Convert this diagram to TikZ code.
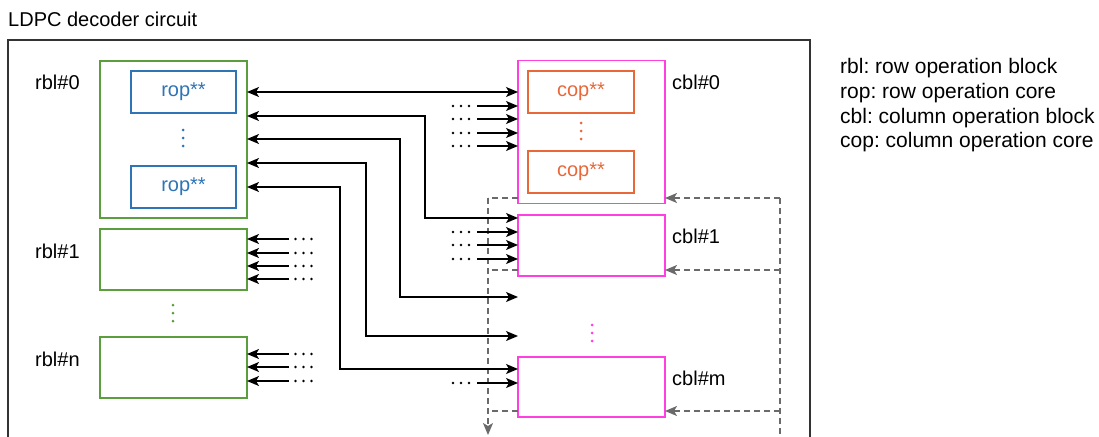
\documentclass[tikz,border=0pt]{standalone}
\usepackage{fontspec}
\setmainfont{Liberation Sans}
\usetikzlibrary{arrows.meta}
\definecolor{grn}{HTML}{5B9E3D}
\definecolor{blu}{HTML}{2F74B5}
\definecolor{mag}{HTML}{FF3FDF}
\definecolor{org}{HTML}{E8683A}
\definecolor{gry}{HTML}{6A6A6A}
\definecolor{frm}{HTML}{333333}
\frenchspacing
\newcommand\dotsrow[2]{\foreach \dx in {-8,0,8} {\fill (#1+\dx,#2) circle[radius=1.3];}}
\newcommand\dotscol[3]{\foreach \dy in {-8,0,8} {\fill[#3] (#1,#2+\dy) circle[radius=1.5];}}
\begin{document}
\begin{tikzpicture}[x=1pt,y=-1pt,
  font=\fontsize{20}{24}\selectfont,
  box/.style={draw, fill=white, line width=1.6pt, inner sep=0pt, outer sep=0pt},
  rblbox/.style={box, draw=grn, minimum width=147pt},
  ropbox/.style={box, draw=blu, text=blu, minimum width=105pt, minimum height=42pt},
  cblbox/.style={box, draw=mag, minimum width=147pt},
  copbox/.style={box, draw=org, text=org, minimum width=106pt, minimum height=42pt},
  lbl/.style={anchor=base west, inner sep=0pt},
  leg/.style={lbl, font=\fontsize{21}{24}\selectfont},
  tip/.tip={Stealth[length=12pt,width=10pt,inset=3pt]},
  conn/.style={line width=1.4pt, black, tip-tip},
  sarr/.style={line width=1.4pt, black, -tip},
  fb/.style={line width=1.4pt, gry, dash pattern=on 6pt off 4pt},
  fbarr/.style={fb, -tip},
]
\useasboundingbox (0,0) rectangle (1099,436);
\clip (0,0) rectangle (1099,436);

% title and frame
\node[lbl] (title) at (8,27) {LDPC decoder circuit};
\draw[frm, line width=1.3pt] (8,470) -- (8,40) -- (810,40) -- (810,470);

% legend
\node[leg] (leg1) at (840,74) {rbl: row operation block};
\node[leg] (leg2) at (840,98.5) {rop: row operation core};
\node[leg] (leg3) at (840,123) {cbl: column operation block};
\node[leg] (leg4) at (840,147.5) {cop: column operation core};

% row blocks
\node[rblbox, minimum height=157pt] (rbl0) at (173.5,139.5) {};
\node[ropbox] (rop0a) at (183.5,92) {rop**};
\node[ropbox] (rop0b) at (183.5,187) {rop**};
\dotscol{183}{138}{blu}
\node[rblbox, minimum height=61pt] (rbl1) at (173.5,259.5) {};
\dotscol{173}{313}{grn}
\node[rblbox, minimum height=61pt] (rbln) at (173.5,367.5) {};
\node[lbl] (lr0) at (35,89) {rbl\#0};
\node[lbl] (lr1) at (35,258) {rbl\#1};
\node[lbl] (lrn) at (35,366) {rbl\#n};

% column blocks
\node[cblbox, minimum height=143pt] (cbl0) at (591.5,132) {};
\node[copbox] (cop0a) at (581,92) {cop**};
\node[copbox] (cop0b) at (581,172) {cop**};
\dotscol{581}{131}{org}
\node[cblbox, minimum height=61pt] (cbl1) at (591.5,245.5) {};
\dotscol{592}{333}{mag}
\node[cblbox, minimum height=60pt] (cblm) at (591.5,387) {};
\node[lbl] (lc0) at (672,89) {cbl\#0};
\node[lbl] (lc1) at (672,243) {cbl\#1};
\node[lbl] (lcm) at (672,385) {cbl\#m};

% feedback (dashed)
\coordinate (fbr0) at (780,198);
\coordinate (fbr1) at (780,270);
\coordinate (fbrm) at (780,411);
\coordinate (fbrend) at (780,470);
\coordinate (fbl0) at (488,198);
\coordinate (fbl1) at (488,270);
\coordinate (fblm) at (488,411);
\coordinate (fbout) at (488,435);
\draw[fb] (fbr0) -- (fbrend);
\draw[fbarr] (fbr0) -- (cbl0.east |- fbr0);
\draw[fbarr] (fbr1) -- (cbl1.east |- fbr1);
\draw[fbarr] (fbrm) -- (cblm.east |- fbrm);
\draw[fb] (cbl0.west |- fbl0) -- (fbl0);
\draw[fb] (cbl1.west |- fbl1) -- (fbl1);
\draw[fb] (cblm.west |- fblm) -- (fblm);
\draw[fbarr] (fbl0) -- (fbout);

% main connectors
\draw[conn] (rbl0.east |- 0,92) -- (cbl0.west |- 0,92);
\draw[conn] (rbl0.east |- 0,116) -| (425,218) -- (cbl1.west |- 0,218);
\coordinate (e3) at (518,297);
\coordinate (e4) at (518,336);
\draw[conn] (rbl0.east |- 0,139) -| (400,297) -- (e3);
\draw[conn] (rbl0.east |- 0,163) -| (366,336) -- (e4);
\draw[conn] (rbl0.east |- 0,187) -| (340,369) -- (cblm.west |- 0,369);

% partial inputs with dots
\foreach \y [count=\i] in {106,119,133,146} {
  \coordinate (ic0\i) at (477,\y);
  \draw[sarr] (ic0\i) -- (cbl0.west |- ic0\i);
  \dotsrow{461}{\y}
}
\foreach \y [count=\i] in {232,245,259} {
  \coordinate (ic1\i) at (477,\y);
  \draw[sarr] (ic1\i) -- (cbl1.west |- ic1\i);
  \dotsrow{461}{\y}
}
\coordinate (icm1) at (477,383);
\draw[sarr] (icm1) -- (cblm.west |- icm1);
\dotsrow{461}{383}
\foreach \y [count=\i] in {239,253,266,279} {
  \coordinate (ir1\i) at (289,\y);
  \draw[sarr] (ir1\i) -- (rbl1.east |- ir1\i);
  \dotsrow{303.5}{\y}
}
\foreach \y [count=\i] in {354,367,381} {
  \coordinate (irn\i) at (289,\y);
  \draw[sarr] (irn\i) -- (rbln.east |- irn\i);
  \dotsrow{303.5}{\y}
}
\end{tikzpicture}
\end{document}
